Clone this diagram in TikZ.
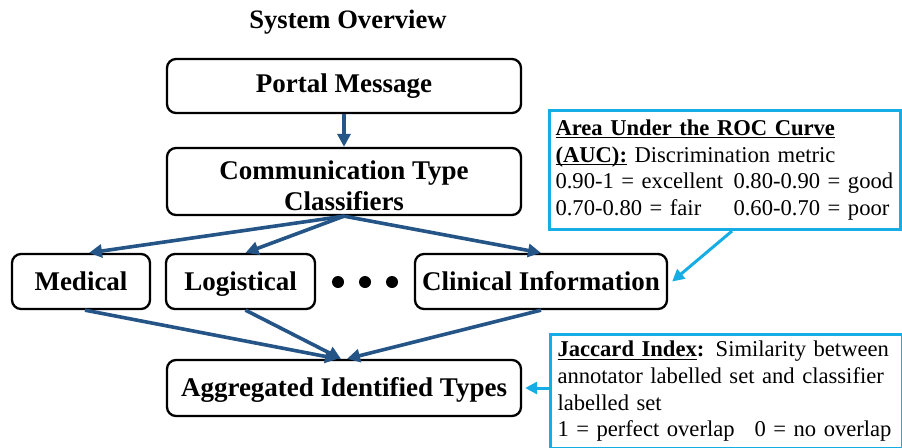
\documentclass[tikz,border=0pt]{standalone}
\usepackage{fontspec}
\setmainfont{Liberation Serif}
\usetikzlibrary{arrows.meta,calc}
\definecolor{flowblue}{RGB}{37,84,134}
\definecolor{notecyan}{RGB}{22,172,228}
% underline with a fixed shallow depth
\newlength\ulwidth
\newcommand{\myuline}[1]{\settowidth{\ulwidth}{#1}\rlap{\rule[-3pt]{\ulwidth}{1.2pt}}#1}
\begin{document}
\begin{tikzpicture}[x=1pt,y=-1pt,
  stagebox/.style={draw=black, line width=2.3pt, rounded corners=9pt, inner sep=0pt,
    align=center, font=\fontsize{27}{31}\selectfont\bfseries},
  notebox/.style={draw=notecyan, line width=3pt, anchor=north west, inner sep=0pt,
    align=left, font=\fontsize{22.6}{26.7}\selectfont},
  flow/.style={draw=flowblue, line width=3.6pt, -{Triangle[length=13pt,width=13pt]}},
  pointer/.style={draw=notecyan, line width=3pt, -{Triangle[length=12pt,width=12pt]}},
  dotmark/.style={circle, fill=black, inner sep=0pt, minimum size=12pt}]
\useasboundingbox (0,0) rectangle (902,447);

% title
\node[font=\fontsize{26.6}{30}\selectfont\bfseries] (title) at (348,22) {System Overview};

% pipeline boxes
\node[stagebox, minimum width=354pt, minimum height=54pt] (portal) at (344,86) {\raisebox{-1pt}{Portal Message}};
\node[stagebox, minimum width=354pt, minimum height=67pt] (classif) at (344,181.5) {\rule{0pt}{27pt}Communication Type\\Classifiers};
\node[stagebox, minimum width=138pt, minimum height=55pt] (medical) at (81,281.5) {\strut\raisebox{-3pt}{Medical}};
\node[stagebox, minimum width=149pt, minimum height=55pt] (logistical) at (240.5,281.5) {\strut\raisebox{-3pt}{Logistical}};
\node[stagebox, minimum width=252pt, minimum height=55pt] (clinical) at (541,281.5) {\strut\raisebox{-3pt}{Clinical Information}};
\node[stagebox, minimum width=354pt, minimum height=56pt] (agg) at (344,388) {\strut\raisebox{-2pt}{Aggregated Identified Types}};

% ellipsis between the class boxes
\node[dotmark] (d1) at (338,282) {};
\node[dotmark] (d2) at (365,282) {};
\node[dotmark] (d3) at (392,282) {};

% metric notes
\node[notebox, text width=351pt, minimum height=119pt] (auc) at (548,109) {%
  \hspace*{6pt}\textbf{\myuline{Area Under the ROC Curve}}\\
  \hspace*{6pt}\textbf{\myuline{(AUC):}} Discrimination metric\\
  \hspace*{6pt}\makebox[178pt][l]{0.90-1 = excellent}0.80-0.90 = good\\
  \hspace*{6pt}\makebox[178pt][l]{0.70-0.80 = fair}0.60-0.70 = poor};
\node[notebox, text width=352pt, minimum height=114pt] (jac) at (549,333) {%
  \hspace*{7pt}\textbf{\myuline{Jaccard Index}:} Similarity between\\
  \hspace*{7pt}annotator labelled set and classifier\\
  \hspace*{7pt}labelled set\\
  \hspace*{7pt}\makebox[197pt][l]{1 = perfect overlap}0 = no overlap};

% flow connectors
\draw[flow] (portal.south) -- (classif.north);
\draw[flow] (classif.south) -- ([xshift=8pt]medical.north);
\draw[flow] (classif.south) -- ([xshift=5pt]logistical.north);
\draw[flow] (classif.south) -- (clinical.north);
\draw[flow] ([xshift=4pt]medical.south) -- ([xshift=-6pt]agg.north);
\draw[flow] ([xshift=5pt]logistical.south) -- ([xshift=-3pt]agg.north);
\draw[flow] (clinical.south) -- ([xshift=3pt]agg.north);

% note pointers
\draw[pointer] ([xshift=7pt]auc.south) -- ([xshift=4pt]clinical.east);
\draw[pointer] (jac.west |- agg.east) -- ([xshift=3pt]agg.east);
\end{tikzpicture}
\end{document}
